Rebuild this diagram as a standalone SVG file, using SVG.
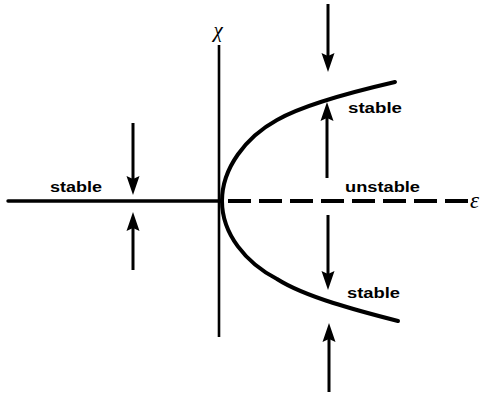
<svg xmlns="http://www.w3.org/2000/svg" width="480" height="395" viewBox="0 0 480 395">
<defs>
<style>
.lbl{font-family:"Liberation Sans",Arial,sans-serif;font-weight:bold;font-size:14.5px;fill:#000}
.sym{font-family:"Liberation Serif","Times New Roman",serif;font-style:italic;fill:#000}
.arr{stroke:#000;stroke-width:3;fill:none;marker-end:url(#head)}
.curve{stroke:#000;stroke-width:4;fill:none;stroke-linecap:round}
</style>
<marker id="head" markerUnits="userSpaceOnUse" viewBox="0 0 19 14" markerWidth="19" markerHeight="14" refX="7" refY="7" orient="auto">
<path d="M19,7 L0,0.5 L3,7 L0,13.5 Z" fill="#000"/>
</marker>
</defs>
<rect width="480" height="395" fill="#fff"/>
<g id="axes">
<line x1="219" y1="45" x2="219" y2="337" stroke="#000" stroke-width="2.6"/>
<line x1="8" y1="201" x2="221" y2="201" stroke="#000" stroke-width="3.4" stroke-linecap="round"/>
<line x1="228" y1="201" x2="468" y2="201" stroke="#000" stroke-width="4" stroke-dasharray="23 8"/>
<text class="sym" x="218" y="37" text-anchor="middle" font-size="21">χ</text>
<text class="sym" x="470" y="208" font-size="23">ε</text>
</g>
<g id="branch-upper">
<path class="curve" d="M222,201 C222,168 246,137 277,120 C305,104 356,91 395,82"/>
</g>
<g id="branch-lower">
<path class="curve" d="M222,201 C222,234 246,263 277,279 C305,297 359,311 398,321"/>
</g>
<g id="connectors">
<line class="arr" x1="133" y1="123" x2="133" y2="183"/>
<line class="arr" x1="133" y1="270" x2="133" y2="224"/>
<line class="arr" x1="328" y1="4" x2="328" y2="60"/>
<line class="arr" x1="327" y1="178" x2="327" y2="114"/>
<line class="arr" x1="328" y1="215" x2="328" y2="278"/>
<line class="arr" x1="329" y1="392" x2="329" y2="335"/>
</g>
<g id="labels">
<text class="lbl" x="50" y="192" textLength="52" lengthAdjust="spacingAndGlyphs">stable</text>
<text class="lbl" x="348" y="113" textLength="54" lengthAdjust="spacingAndGlyphs">stable</text>
<text class="lbl" x="345" y="192" textLength="75" lengthAdjust="spacingAndGlyphs">unstable</text>
<text class="lbl" x="347" y="298" textLength="53" lengthAdjust="spacingAndGlyphs">stable</text>
</g>
</svg>
